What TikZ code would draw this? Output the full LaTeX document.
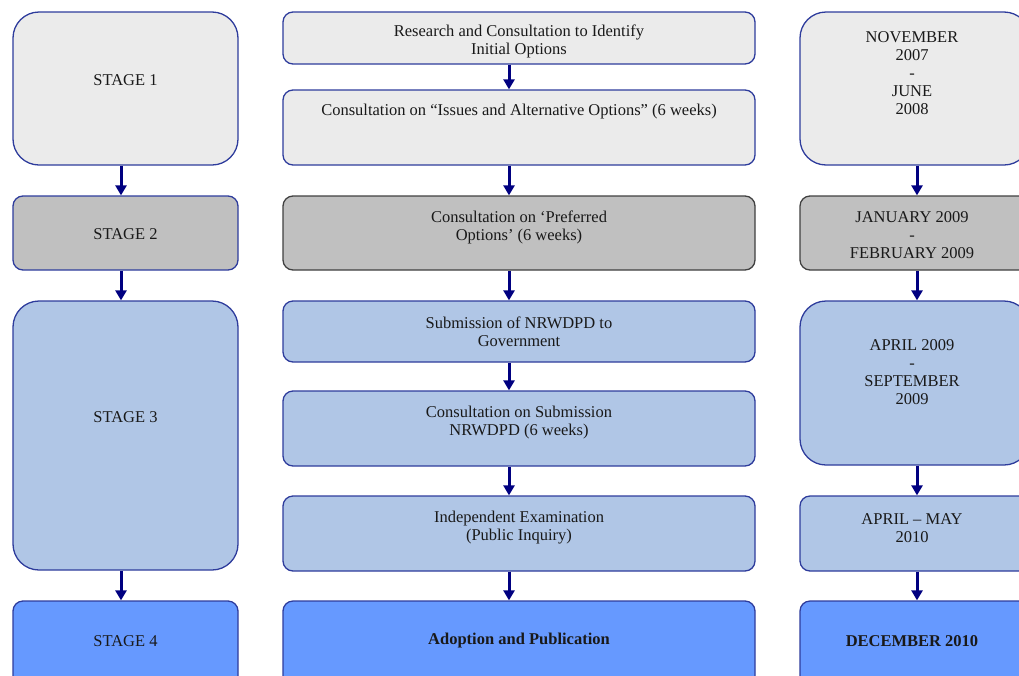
\documentclass[tikz,border=0pt]{standalone}
\usepackage{fontspec}
\setmainfont{Liberation Serif}
\usetikzlibrary{arrows.meta,positioning}

\definecolor{edgeblue}{HTML}{2E3C9C}
\definecolor{arrowblue}{HTML}{000080}
\definecolor{palegrey}{HTML}{EBEBEB}
\definecolor{midgrey}{HTML}{C0C0C0}
\definecolor{paleblue}{HTML}{B0C6E6}
\definecolor{brightblue}{HTML}{6699FF}

\begin{document}
\begin{tikzpicture}[x=1pt,y=-1pt,
  box/.style={draw=edgeblue, line width=1.3pt, rounded corners=10pt, inner sep=0pt},
  big/.style={rounded corners=26pt},
  stage1/.style={box, fill=palegrey},
  stage2/.style={box, fill=midgrey},
  stage3/.style={box, fill=paleblue},
  stage4/.style={box, fill=brightblue},
  greyedge/.style={draw=black!75},
  txt/.style={align=center, inner sep=0pt, text=black!90, yshift=-2pt,
    font=\fontsize{16.5}{18}\selectfont},
  flow/.style={draw=arrowblue, line width=3pt, -{Triangle[length=10pt,width=11pt]}}]

  \useasboundingbox (0,0) rectangle (1019,675);

  % stages
  \node[stage1, big, minimum width=225pt, minimum height=153pt] (s1) at (125.5,88.5) {};
  \node[stage2, minimum width=225pt, minimum height=74pt] (s2) at (125.5,233) {};
  \node[stage3, big, minimum width=225pt, minimum height=269pt] (s3) at (125.5,435.5) {};
  \node[stage4, minimum width=225pt, minimum height=89pt] (s4) at (125.5,645.5) {};

  % steps
  \node[stage1, minimum width=472pt, minimum height=52pt] (m1) at (519,38) {};
  \node[stage1, minimum width=472pt, minimum height=75pt] (m2) at (519,127.5) {};
  \node[stage2, greyedge, minimum width=472pt, minimum height=74pt] (m3) at (519,233) {};
  \node[stage3, minimum width=472pt, minimum height=61pt] (m4) at (519,331.5) {};
  \node[stage3, minimum width=472pt, minimum height=75pt] (m5) at (519,428.5) {};
  \node[stage3, minimum width=472pt, minimum height=75pt] (m6) at (519,533.5) {};
  \node[stage4, minimum width=472pt, minimum height=89pt] (m7) at (519,645.5) {};

  % dates
  \node[stage1, big, minimum width=230pt, minimum height=153pt] (d1) at (915,88.5) {};
  \node[stage2, greyedge, minimum width=230pt, minimum height=74pt] (d2) at (915,233) {};
  \node[stage3, big, minimum width=230pt, minimum height=164pt] (d3) at (915,383) {};
  \node[stage3, minimum width=230pt, minimum height=75pt] (d4) at (915,533.5) {};
  \node[stage4, minimum width=230pt, minimum height=89pt] (d5) at (915,645.5) {};

  % labels
  \node[txt] (s1t) at (125.5,78) {STAGE 1};
  \node[txt] (s2t) at (125.5,232) {STAGE 2};
  \node[txt] (s3t) at (125.5,415) {STAGE 3};
  \node[txt] (s4t) at (125.5,639) {STAGE 4};

  \node[txt] (m1t) at (519,39) {Research and Consultation to Identify\\Initial Options};
  \node[txt] (m2t) at (519,110) {Consultation on “Issues and Alternative Options” (6 weeks)};
  \node[txt] (m3t) at (519,225) {Consultation on ‘Preferred\\Options’ (6 weeks)};
  \node[txt] (m4t) at (519,329.5) {Submission of NRWDPD to\\Government};
  \node[txt] (m5t) at (519,420.5) {Consultation on Submission\\NRWDPD (6 weeks)};
  \node[txt] (m6t) at (519,526) {Independent Examination\\(Public Inquiry)};
  \node[txt, font=\fontsize{16.5}{18}\selectfont\bfseries] (m7t) at (519,639) {Adoption and Publication};

  \node[txt] (d1t) at (912,71.5) {NOVEMBER\\2007\\-\\JUNE\\2008};
  \node[txt] (d2t) at (912,233) {JANUARY 2009\\-\\FEBRUARY 2009};
  \node[txt] (d3t) at (912,370.5) {APRIL 2009\\-\\SEPTEMBER\\2009};
  \node[txt] (d4t) at (912,526) {APRIL – MAY\\2010};
  \node[txt, font=\fontsize{16.5}{18}\selectfont\bfseries] (d5t) at (912,639) {DECEMBER 2010};

  % arrows
  \draw[flow] ([xshift=-4.5pt]s1.south) -- ([xshift=-4.5pt]s2.north);
  \draw[flow] ([xshift=-4.5pt]s2.south) -- ([xshift=-4.5pt]s3.north);
  \draw[flow] ([xshift=-4.5pt]s3.south) -- ([xshift=-4.5pt]s4.north);

  \draw[flow] ([xshift=-10pt]m1.south) -- ([xshift=-10pt]m2.north);
  \draw[flow] ([xshift=-10pt]m2.south) -- ([xshift=-10pt]m3.north);
  \draw[flow] ([xshift=-10pt]m3.south) -- ([xshift=-10pt]m4.north);
  \draw[flow] ([xshift=-10pt]m4.south) -- ([xshift=-10pt]m5.north);
  \draw[flow] ([xshift=-10pt]m5.south) -- ([xshift=-10pt]m6.north);
  \draw[flow] ([xshift=-10pt]m6.south) -- ([xshift=-10pt]m7.north);

  \draw[flow] ([xshift=2pt]d1.south) -- ([xshift=2pt]d2.north);
  \draw[flow] ([xshift=2pt]d2.south) -- ([xshift=2pt]d3.north);
  \draw[flow] ([xshift=2pt]d3.south) -- ([xshift=2pt]d4.north);
  \draw[flow] ([xshift=2pt]d4.south) -- ([xshift=2pt]d5.north);
\end{tikzpicture}
\end{document}
